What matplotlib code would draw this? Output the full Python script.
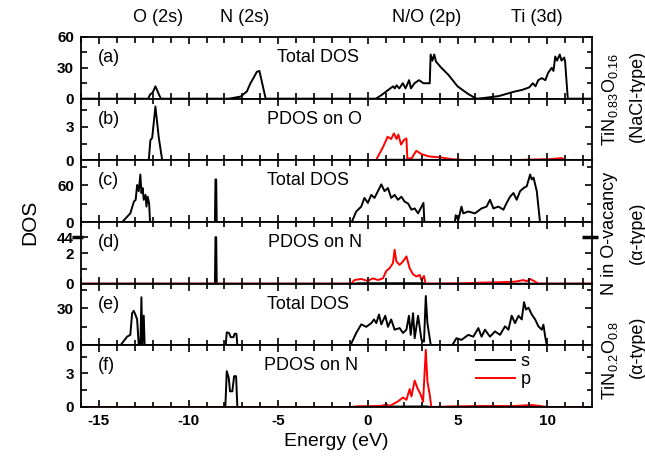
import numpy as np
import matplotlib
matplotlib.use('Agg')
import matplotlib.pyplot as plt
from matplotlib.ticker import MultipleLocator, FixedLocator
import matplotlib.transforms as mtrans

plt.rcParams['font.family'] = ['Liberation Sans', 'DejaVu Sans']
plt.rcParams['mathtext.fontset'] = 'custom'
plt.rcParams['mathtext.rm'] = 'Liberation Sans'

# (energy eV, DOS)
tot_a = [(-16, 0), (-12.25, 0), (-12.15, 4), (-12.0, 6), (-11.85, 12), (-11.7, 6), (-11.55, 0),
         (-7.75, 0), (-7.1, 2), (-6.75, 7), (-6.55, 15), (-6.35, 21), (-6.2, 26), (-6.05, 27), (-5.7, 0),
         (0.45, 0), (0.8, 4), (1.1, 8), (1.25, 10), (1.4, 12), (1.5, 10), (1.6, 13), (1.75, 10),
         (1.95, 15), (2.1, 10), (2.3, 18), (2.4, 10), (2.6, 15), (2.85, 18), (3.1, 15), (3.45, 15),
         (3.5, 43), (3.6, 37), (3.7, 43), (3.8, 36), (4.1, 30), (4.5, 23), (5.0, 12), (5.6, 4.5),
         (6.05, 0), (6.4, 0.5), (7.3, 2.5), (8.2, 7), (8.6, 8.5), (9.0, 11), (9.2, 15), (9.35, 12),
         (9.5, 18), (9.7, 20), (9.9, 18), (10.05, 25), (10.25, 30), (10.35, 27), (10.45, 41),
         (10.55, 37), (10.7, 43), (10.8, 37), (10.95, 40), (11.0, 36), (11.15, 0), (12.5, 0)]

s_b = [(-16, 0), (-12.22, 0), (-12.13, 1.8), (-12.03, 2.0), (-11.85, 4.8), (-11.66, 2.0),
       (-11.47, 0), (0.5, 0), (1.0, 0.05), (3.3, 0.05), (3.5, 0), (8, 0.02), (10.5, 0.06),
       (11.1, 0), (12.5, 0)]
p_b = [(-16, 0), (0.45, 0), (0.85, 1.2), (1.1, 2.1), (1.3, 1.9), (1.45, 2.4), (1.6, 1.9),
       (1.7, 2.3), (1.85, 1.4), (2.0, 1.8), (2.15, 1.95), (2.2, 0.15), (2.45, 0.2), (2.7, 0.85),
       (3.0, 0.55), (3.4, 0.35), (4.1, 0.25), (4.7, 0.1), (5.4, 0.03), (8.2, 0.03), (10.1, 0.1),
       (10.8, 0.2), (11.05, 0), (12.5, 0)]

tot_c = [(-16, 0), (-13.7, 0), (-13.25, 14), (-13.05, 33), (-12.95, 36), (-12.87, 60),
         (-12.78, 50), (-12.69, 77), (-12.63, 47), (-12.56, 55), (-12.5, 36), (-12.4, 44),
         (-12.35, 25), (-12.28, 41), (-12.2, 30), (-12.15, 0), (-8.53, 0), (-8.5, 69),
         (-8.46, 69), (-8.43, 0), (-0.9, 0), (-0.65, 17), (-0.37, 25), (-0.19, 39), (0, 31),
         (0.19, 44), (0.37, 39), (0.56, 50), (0.75, 61), (0.93, 50), (1.12, 55), (1.3, 39),
         (1.49, 44), (1.68, 36), (1.87, 41), (2.05, 33), (2.24, 30), (2.43, 20), (2.61, 22),
         (2.8, 14), (3.1, 31), (3.15, 0), (4.85, 0), (4.9, 11), (5.04, 3), (5.22, 25), (5.32, 14),
         (5.6, 17), (5.97, 14), (6.34, 22), (6.62, 25), (6.81, 36), (7.0, 22), (7.28, 25),
         (7.56, 20), (7.74, 31), (7.93, 41), (8.12, 47), (8.3, 36), (8.49, 50), (8.68, 55),
         (8.86, 58), (9.05, 77), (9.14, 69), (9.24, 72), (9.42, 50), (9.6, 0), (12.5, 0)]

s_d = [(-16, 0), (-8.53, 0), (-8.5, 3.07), (-8.46, 3.07), (-8.43, 0), (-0.9, 0), (-0.5, 0.03),
       (3.1, 0.03), (3.2, 0), (12.5, 0)]
p_d = [(-16, 0), (-0.93, 0), (-0.75, 0.24), (-0.37, 0.31), (0, 0.18), (0.28, 0.35), (0.56, 0.24),
       (0.84, 0.35), (1.03, 0.84), (1.21, 1.02), (1.4, 1.36), (1.49, 2.24), (1.59, 1.47),
       (1.77, 1.24), (1.96, 1.47), (2.15, 1.8), (2.33, 1.02), (2.52, 0.62), (2.71, 0.47),
       (2.89, 0.58), (2.99, 0.24), (3.13, 0.51), (3.21, 0), (5.2, 0.02), (6.34, 0.07),
       (7.28, 0.09), (8.2, 0.13), (8.68, 0.24), (8.85, 0.15), (9.05, 0.31), (9.33, 0.13),
       (9.5, 0), (12.5, 0)]

tot_e = [(-16, 0), (-13.8, 0), (-13.43, 7), (-13.25, 8.5), (-13.15, 26), (-13.06, 28),
         (-12.97, 25), (-12.87, 21), (-12.78, 0), (-12.69, 0), (-12.63, 39), (-12.58, 0),
         (-12.5, 24), (-12.45, 0), (-7.93, 0), (-7.87, 10.5), (-7.74, 10), (-7.65, 6.6),
         (-7.5, 6.6), (-7.43, 9.4), (-7.33, 9.4), (-7.28, 0), (-0.97, 0), (-0.65, 10),
         (-0.37, 17), (-0.09, 15), (0.19, 18), (0.34, 21), (0.47, 18), (0.62, 25), (0.75, 17),
         (0.97, 24), (1.12, 15), (1.3, 21), (1.49, 12.7), (1.77, 14), (1.96, 10), (2.15, 12.7),
         (2.29, 24), (2.39, 8.5), (2.52, 26), (2.61, 5.8), (2.8, 24), (2.99, 4.4), (3.13, 3),
         (3.23, 40), (3.32, 18), (3.51, 0), (4.7, 0), (4.94, 5.8), (5.22, 4.4), (5.6, 8.5),
         (5.88, 7), (6.16, 14), (6.34, 7), (6.53, 12.7), (6.81, 7), (7.09, 11.3), (7.37, 8.5),
         (7.65, 15.4), (7.84, 12.7), (8.02, 24), (8.21, 18), (8.4, 24), (8.58, 21), (8.71, 35),
         (8.82, 29), (8.96, 30.5), (9.14, 25), (9.33, 21), (9.51, 15.4), (9.7, 12.7),
         (9.79, 16.8), (9.89, 7), (9.98, 0), (12.5, 0)]

s_f = [(-16, 0), (-7.95, 0), (-7.87, 3.2), (-7.76, 2.6), (-7.69, 1.4), (-7.56, 1.4),
       (-7.46, 2.75), (-7.35, 2.75), (-7.28, 0), (-0.9, 0), (0, 0.03), (3.3, 0.05), (3.5, 0),
       (12.5, 0)]
p_f = [(-16, 0), (-0.93, 0), (-0.56, 0.06), (0.75, 0.09), (1.03, 0.24), (1.21, 0.09),
       (1.49, 0.33), (1.68, 0.5), (1.96, 0.85), (2.15, 0.64), (2.33, 1.6), (2.43, 0.94),
       (2.61, 2.36), (2.76, 1.7), (2.95, 1.09), (3.08, 0.48), (3.23, 5.1), (3.32, 2.3),
       (3.45, 1.09), (3.54, 0), (4.85, 0.06), (6.34, 0.09), (8.2, 0.09), (9.14, 0.18),
       (9.89, 0.03), (10.0, 0), (12.5, 0)]

panel_tags = ['(a)', '(b)', '(c)', '(d)', '(e)', '(f)']
panel_titles = ['Total DOS', 'PDOS on O', 'Total DOS', 'PDOS on N', 'Total DOS', 'PDOS on N']
title_x = [0.464, 0.456, 0.444, 0.459, 0.445, 0.451]
orbital_labels = ['O (2s)', 'N (2s)', 'N/O (2p)', 'Ti (3d)']
ylims = [60, 5.5, 100, 4.07, 50, 5.5]
ytick_major = [[0, 30, 60], [0, 3], [0, 60], [0, 2, 3.07], [0, 30], [0, 3]]
ytick_labels = [['0', '30', '60'], ['0', '3'], ['0', '60'], ['0', '2', '44'], ['0', '30'], ['0', '3']]
ytick_minor = [[15, 45], [1.5, 4.5], [30, 90], [1], [15, 45], [1.5, 4.5]]

W, H = 645, 466
fig = plt.figure(figsize=(W / 100, H / 100), dpi=100)
left, right = 81 / W, 592 / W
top_px, bot_px = 37, 407
ph = (bot_px - top_px) / 6.0
aw = (right - left) * W


def inward_ticks(ax):
    # tick marks drawn inside the frame on all four sides
    x0, x1 = ax.get_xlim()
    y0, y1 = ax.get_ylim()
    xmaj = [v for v in ax.xaxis.get_majorticklocs() if x0 <= v <= x1]
    xmin = [v for v in ax.xaxis.get_minorticklocs() if x0 <= v <= x1]
    ymaj = [v for v in ax.yaxis.get_majorticklocs() if y0 <= v <= y1]
    ymin = [v for v in ax.yaxis.get_minorticklocs() if y0 <= v <= y1]
    tx = mtrans.blended_transform_factory(ax.transData, ax.transAxes)
    ty = mtrans.blended_transform_factory(ax.transAxes, ax.transData)
    kw = dict(color='black', lw=1.2, clip_on=False, zorder=4)
    for locs, ln in ((xmaj, 7.0), (xmin, 5.5)):
        f = ln / ph
        ax.vlines(locs, 0, f, transform=tx, **kw)
        ax.vlines(locs, 1 - f, 1, transform=tx, **kw)
    for locs, ln in ((ymaj, 7.0), (ymin, 5.5)):
        f = ln / aw
        ax.hlines(locs, 0, f, transform=ty, **kw)
        ax.hlines(locs, 1 - f, 1, transform=ty, **kw)


axes = []
for i in range(6):
    y0 = 1 - (top_px + (i + 1) * ph) / H
    ax = fig.add_axes([left, y0, right - left, ph / H])
    axes.append(ax)

curves = [(tot_a, None), (s_b, p_b), (tot_c, None), (s_d, p_d), (tot_e, None), (s_f, p_f)]
for i, ax in enumerate(axes):
    ax.set_xlim(-16, 12.5)
    ax.set_ylim(0, ylims[i])
    ax.xaxis.set_major_locator(MultipleLocator(5))
    ax.xaxis.set_minor_locator(MultipleLocator(1))
    ax.yaxis.set_major_locator(FixedLocator(ytick_major[i]))
    ax.yaxis.set_minor_locator(FixedLocator(ytick_minor[i]))
    ax.set_yticklabels(ytick_labels[i], fontweight='bold', fontsize=11)
    ax.tick_params(which='both', length=0, pad=5)

    s, p = curves[i]
    s = np.array(s)
    ax.plot(s[:, 0], s[:, 1], color='black', lw=1.4, label='s')
    if p is not None:
        p = np.array(p)
        ax.plot(p[:, 0], p[:, 1], color='red', lw=1.4, label='p')

    for sp in ax.spines.values():
        sp.set_linewidth(1.3)
        sp.set_color('black')
    if i < 5:
        ax.tick_params(labelbottom=False)
    ax.text(0.033, 0.67, panel_tags[i], transform=ax.transAxes, fontsize=13, va='center')
    ax.text(title_x[i], 0.67, panel_titles[i], transform=ax.transAxes, fontsize=13,
            va='center', ha='center')

axes[5].set_xticks([-15, -10, -5, 0, 5, 10])
axes[5].set_xticklabels(['-15', '-10', '-5', '0', '5', '10'], fontweight='bold', fontsize=11)
axes[5].set_xlabel('Energy (eV)', fontsize=14, labelpad=4)
axes[5].legend(loc='upper right', bbox_to_anchor=(0.905, 1.08), frameon=False, fontsize=13,
               handlelength=2.2, handletextpad=0.3, labelspacing=0.05, borderpad=0.2)

for ax in axes:
    inward_ticks(ax)

# axis break marks in panel (d)
tr = mtrans.blended_transform_factory(axes[3].transAxes, axes[3].transData)
axes[3].plot([-0.018, 0.003], [3.07, 3.07], transform=tr, color='black', lw=2.5,
             clip_on=False, solid_capstyle='butt')
axes[3].plot([0.98, 1.012], [3.07, 3.07], transform=tr, color='black', lw=2.5,
             clip_on=False, solid_capstyle='butt')

fig.text(30 / W, 1 - 222 / H, 'DOS', rotation=90, fontsize=15, ha='center', va='center')

orb_x = [158, 245, 427, 537]
for lab, xp in zip(orbital_labels, orb_x):
    fig.text(xp / W, 1 - 18 / H, lab, fontsize=13, ha='center', va='center')

fig.text(610 / W, 1 - 99 / H, r'TiN$_{0.83}$O$_{0.16}$', rotation=90, fontsize=13,
         ha='center', va='center')
fig.text(637 / W, 1 - 96 / H, '(NaCl-type)', rotation=90, fontsize=13, ha='center', va='center')
fig.text(610 / W, 1 - 233 / H, 'N in O-vacancy', rotation=90, fontsize=13, ha='center', va='center')
fig.text(637 / W, 1 - 233 / H, '(\u03b1-type)', rotation=90, fontsize=13, ha='center', va='center')
fig.text(610 / W, 1 - 360 / H, r'TiN$_{0.2}$O$_{0.8}$', rotation=90, fontsize=13,
         ha='center', va='center')
fig.text(637 / W, 1 - 347 / H, '(\u03b1-type)', rotation=90, fontsize=13, ha='center', va='center')

fig.savefig('out.png', dpi=100)
